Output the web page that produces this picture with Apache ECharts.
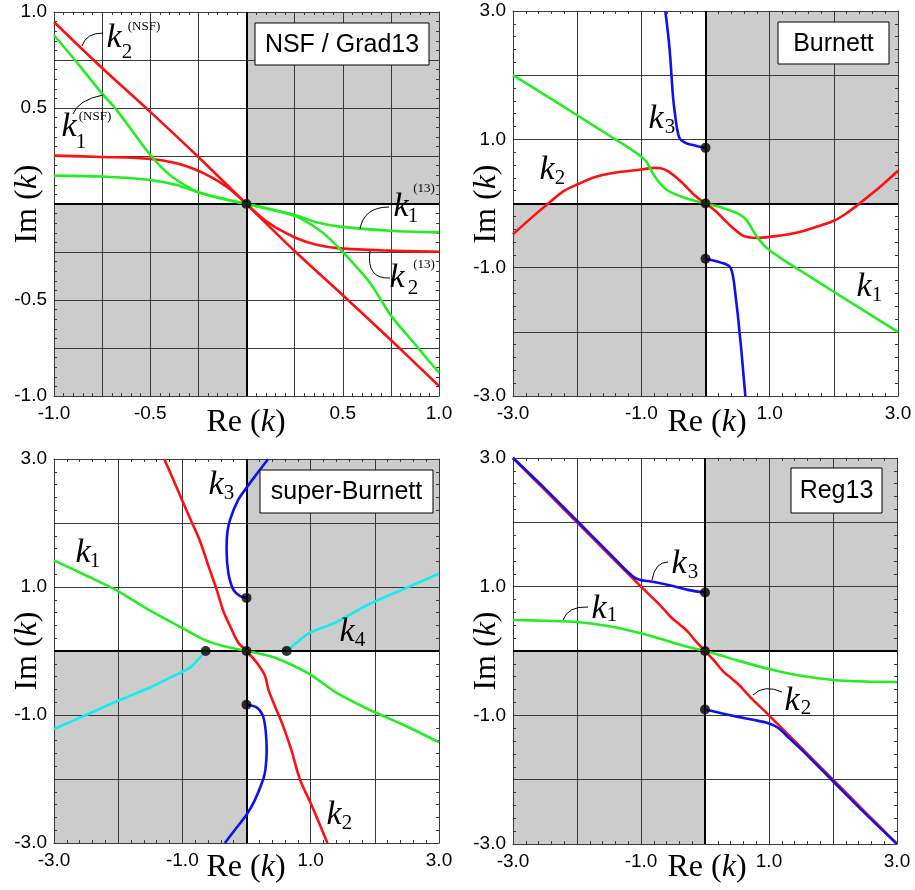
<!DOCTYPE html>
<html><head><meta charset="utf-8">
<script src="https://cdn.jsdelivr.net/npm/echarts@6/dist/echarts.min.js"></script>
<style>html,body{margin:0;padding:0;background:#fff}#c{width:915px;height:890px}</style>
</head><body><div id="c"></div>
<script>
// ---------------- DATA ----------------
// Panel 1: NSF / Grad13  (Re k, Im k)
const nsf_k2 = [[-1,0.948],[-0.75,0.708],[-0.5,0.48],[-0.25,0.245],[0,0],[0.25,-0.245],[0.5,-0.475],[0.75,-0.708],[1,-0.948]];
const nsf_k1 = [[-1,0.879],[-0.875,0.73],[-0.75,0.575],[-0.675,0.49],[-0.5,0.255],[-0.42,0.17],[-0.363,0.125],[-0.26,0.066],[-0.14,0.032],[0,0],[0.14,-0.032],[0.26,-0.066],[0.363,-0.125],[0.42,-0.17],[0.5,-0.25],[0.641,-0.41],[0.75,-0.58],[0.875,-0.73],[1,-0.879]];
const grad13_k2 = [[-1,0.252],[-0.75,0.245],[-0.5,0.235],[-0.363,0.212],[-0.26,0.177],[-0.172,0.134],[-0.103,0.09],[-0.05,0.046],[0,0],[0.05,-0.046],[0.103,-0.09],[0.172,-0.134],[0.26,-0.178],[0.363,-0.212],[0.486,-0.231],[0.745,-0.243],[1,-0.249]];
const grad13_k1 = [[-1,0.148],[-0.75,0.143],[-0.5,0.125],[-0.363,0.099],[-0.26,0.064],[-0.138,0.03],[0,0],[0.138,-0.03],[0.26,-0.06],[0.363,-0.095],[0.486,-0.118],[0.745,-0.139],[1,-0.148]];
const nsf_dots = [[0,0]];

// Panel 2: Burnett
const burnett_k1 = [[-3,2.0],[-2.5,1.69],[-2,1.375],[-1.5,1.06],[-1.2,0.87],[-1.0,0.73],[-0.92,0.65],[-0.79,0.42],[-0.64,0.24],[-0.53,0.17],[-0.27,0.07],[0,0],[0.27,-0.07],[0.53,-0.17],[0.64,-0.26],[0.77,-0.47],[0.9,-0.64],[1.0,-0.73],[1.2,-0.87],[1.5,-1.06],[2,-1.375],[2.5,-1.69],[3,-2.0]];
const burnett_k2 = [[-3,-0.48],[-2.71,-0.22],[-2.45,0],[-2.2,0.2],[-1.99,0.3],[-1.73,0.41],[-1.42,0.48],[-1.0,0.53],[-0.8,0.555],[-0.7,0.55],[-0.58,0.5],[-0.38,0.34],[-0.17,0.13],[0,0],[0.17,-0.13],[0.38,-0.34],[0.58,-0.5],[0.7,-0.53],[0.8,-0.535],[1.0,-0.52],[1.3,-0.48],[1.55,-0.42],[2.0,-0.27],[2.2,-0.15],[2.4,0],[2.7,0.24],[3,0.51]];
const burnett_k3_up = [[-0.626,3],[-0.59,2.7],[-0.558,2.39],[-0.53,2.0],[-0.506,1.66],[-0.47,1.35],[-0.44,1.15],[-0.41,1.03],[-0.377,0.985],[-0.3,0.94],[-0.15,0.9],[0,0.867]];
const burnett_k3_dn = [[0,-0.862],[0.15,-0.895],[0.3,-0.94],[0.377,-0.985],[0.41,-1.05],[0.44,-1.2],[0.47,-1.45],[0.506,-1.76],[0.53,-2.0],[0.558,-2.28],[0.59,-2.65],[0.621,-3.0]];
const burnett_dots = [[0,0.867],[0,0],[0,-0.862]];

// Panel 3: super-Burnett
const sb_k1 = [[-3,1.417],[-2.5,1.18],[-2.024,0.948],[-1.5,0.63],[-1.01,0.364],[-0.673,0.182],[-0.36,0.078],[0,0],[0.36,-0.078],[0.574,-0.156],[0.99,-0.364],[1.4,-0.65],[1.9,-0.91],[2.5,-1.18],[3,-1.427]];
const sb_k2 = [[-1.282,3],[-1.15,2.7],[-1.01,2.37],[-0.87,2.05],[-0.725,1.72],[-0.6,1.35],[-0.465,0.96],[-0.36,0.62],[-0.257,0.39],[-0.127,0.13],[0,0],[0.158,-0.18],[0.29,-0.39],[0.34,-0.6],[0.45,-0.88],[0.57,-1.17],[0.7,-1.55],[0.83,-2.0],[1.01,-2.4],[1.261,-3]];
const sb_k3_up = [[0,0.83],[-0.1,0.857],[-0.205,0.96],[-0.283,1.22],[-0.31,1.58],[-0.3,1.84],[-0.257,2.05],[-0.13,2.36],[0,2.55],[0.17,2.78],[0.337,3]];
const sb_k3_dn = [[0,-0.84],[0.158,-0.88],[0.25,-1.0],[0.29,-1.17],[0.31,-1.4],[0.314,-1.58],[0.295,-1.85],[0.262,-2.0],[0.13,-2.33],[0,-2.56],[-0.17,-2.78],[-0.337,-3]];
const sb_k4_left = [[-3,-1.219],[-2.5,-1.0],[-2.024,-0.786],[-1.504,-0.571],[-1.19,-0.415],[-0.88,-0.26],[-0.75,-0.13],[-0.636,0]];
const sb_k4_right = [[0.626,0],[0.78,0.13],[0.99,0.286],[1.4,0.45],[1.9,0.727],[2.5,0.99],[3,1.208]];
const sb_dots = [[0,0.83],[0,0],[0,-0.84],[-0.636,0],[0.626,0]];

// Panel 4: Reg13
const reg_k2 = [[-3,3],[-2.5,2.5],[-2,2],[-1.5,1.5],[-1,1],[-0.75,0.76],[-0.6,0.6],[-0.526,0.52],[-0.42,0.43],[-0.32,0.35],[-0.25,0.28],[-0.16,0.17],[0,0],[0.16,-0.17],[0.25,-0.28],[0.32,-0.35],[0.42,-0.43],[0.526,-0.52],[0.6,-0.6],[0.75,-0.76],[1,-1],[1.5,-1.5],[2,-2],[2.5,-2.5],[3,-3]];
const reg_k3_up = [[-3,3.0],[-2.5,2.525],[-2,2.025],[-1.5,1.525],[-1.25,1.27],[-1.1,1.14],[-1.0,1.1],[-0.84,1.08],[-0.5,1.01],[-0.27,0.95],[0,0.908]];
const reg_k3_dn = [[0,-0.908],[0.255,-0.967],[0.5,-1.02],[0.75,-1.07],[0.98,-1.12],[1.15,-1.2],[1.3,-1.34],[1.5,-1.525],[2,-2.025],[2.5,-2.525],[3,-3.0]];
const reg_k1 = [[-3,0.482],[-2.5,0.47],[-2,0.45],[-1.5,0.385],[-1,0.275],[-0.5,0.13],[-0.25,0.06],[0,0],[0.25,-0.07],[0.5,-0.145],[1,-0.28],[1.5,-0.385],[2,-0.45],[2.5,-0.475],[3,-0.482]];
const reg_dots = [[0,0.908],[0,0],[0,-0.908]];

// Tick labels
const smallTickValues = [-1,-0.5,0.5,1];
const smallTickLabels = ['-1.0','-0.5','0.5','1.0'];
const bigTickValues = [-3,-1,1,3];
const bigTickLabels = ['-3.0','-1.0','1.0','3.0'];
const panelTitles = ['NSF / Grad13','Burnett','super-Burnett','Reg13'];

// ---------------- STYLE / LAYOUT ----------------
const SANS = '"Liberation Sans", Arial, sans-serif';
const SERIF = '"Liberation Serif", "Times New Roman", serif';
const LC = '#3a3a3a';
const RED = '#ff1010', GREEN = '#22ee22', BLUE = '#1010ee', CYAN = '#11eeee';
const gridPos = [
  {left:54, top:12, width:385, height:384},
  {left:513, top:11, width:385, height:385},
  {left:54, top:459, width:385, height:384},
  {left:513, top:458, width:384, height:386}
];
const ranges = [[-1,1,0.25],[-3,3,1],[-3,3,1],[-3,3,1]];

function fmtFor(vals, labs){
  return function(v){ const i = vals.findIndex(t => Math.abs(t - v) < 1e-9); return i >= 0 ? labs[i] : ''; };
}
const xAxes = [], yAxes = [];
gridPos.forEach((g, gi) => {
  const [mn, mx, iv] = ranges[gi];
  const fmt = gi === 0 ? fmtFor(smallTickValues, smallTickLabels) : fmtFor(bigTickValues, bigTickLabels);
  const base = {
    type:'value', gridIndex:gi, min:mn, max:mx, interval:iv,
    axisLine:{show:true, onZero:false, lineStyle:{color:LC, width:1}},
    axisTick:{show:false, inside:true},
    minorTick:{show:true, splitNumber:5, length:3, lineStyle:{color:LC, width:1}},
    minorSplitLine:{show:false}
  };
  const lab = {show:true, color:'#000', fontFamily:SANS, fontSize:19, formatter:fmt, showMinLabel:true, showMaxLabel:true, hideOverlap:false};
  xAxes.push(Object.assign({}, base, {position:'bottom', splitLine:{show:true, lineStyle:{color:LC, width:1}}, axisLabel:Object.assign({margin:8}, lab)}));
  xAxes.push(Object.assign({}, base, {position:'top', splitLine:{show:false}, axisLabel:{show:false}}));
  yAxes.push(Object.assign({}, base, {position:'left', splitLine:{show:true, lineStyle:{color:LC, width:1}}, axisLabel:Object.assign({margin:7}, lab)}));
  yAxes.push(Object.assign({}, base, {position:'right', splitLine:{show:false}, axisLabel:{show:false}}));
});

const series = [];
function line(gi, data, color){
  series.push({type:'line', xAxisIndex:gi*2, yAxisIndex:gi*2, data:data, showSymbol:false, symbol:'none',
    smooth:0.3, lineStyle:{color:color, width:2.6}, itemStyle:{color:color}, silent:true, z:2});
}
function dots(gi, data){
  series.push({type:'scatter', xAxisIndex:gi*2, yAxisIndex:gi*2, data:data, symbolSize:10,
    itemStyle:{color:'#000'}, silent:true, z:4});
}
gridPos.forEach((g, gi) => {
  const [mn, mx] = ranges[gi];
  series.push({type:'line', xAxisIndex:gi*2, yAxisIndex:gi*2, data:[], silent:true,
    markArea:{silent:true, z:-1, itemStyle:{color:'#cccccc', borderWidth:0}, label:{show:false},
      data:[[{coord:[0,0]},{coord:[mx,mx]}],[{coord:[mn,mn]},{coord:[0,0]}]]},
    markLine:{silent:true, z:1, symbol:'none', label:{show:false}, lineStyle:{color:'#000', width:2, type:'solid'},
      data:[{xAxis:0},{yAxis:0}]}
  });
});
line(0, nsf_k2, RED); line(0, grad13_k2, RED); line(0, nsf_k1, GREEN); line(0, grad13_k1, GREEN); dots(0, nsf_dots);
line(1, burnett_k2, RED); line(1, burnett_k1, GREEN); line(1, burnett_k3_up, BLUE); line(1, burnett_k3_dn, BLUE); dots(1, burnett_dots);
line(2, sb_k2, RED); line(2, sb_k1, GREEN); line(2, sb_k3_up, BLUE); line(2, sb_k3_dn, BLUE); line(2, sb_k4_left, CYAN); line(2, sb_k4_right, CYAN); dots(2, sb_dots);
line(3, reg_k2, RED); line(3, reg_k1, GREEN); line(3, reg_k3_up, BLUE); line(3, reg_k3_dn, BLUE); dots(3, reg_dots);

// ---------------- ANNOTATIONS ----------------
const graphic = [];
const boxes = [[255,23,174,42],[778,22,111,42],[260,470,173,43],[791,468,91,45]];
boxes.forEach((b, i) => {
  graphic.push({type:'rect', shape:{x:b[0], y:b[1], width:b[2], height:b[3]}, style:{fill:'#fff', stroke:'#000', lineWidth:1}, z:10});
  graphic.push({type:'text', x:b[0]+b[2]/2, y:b[1]+b[3]/2+1, style:{text:panelTitles[i], fontFamily:SANS, fontSize:25, fill:'#000', align:'center', verticalAlign:'middle'}, z:11});
});
const imPos = [[28,204],[487,204],[28,651],[487,651]];
const rePos = [[246,423],[707,423],[246,868],[707,868]];
const titleRich = {r:{fontFamily:SERIF, fontSize:32, fill:'#000'}, i:{fontFamily:SERIF, fontSize:32, fontStyle:'italic', fill:'#000'}};
imPos.forEach(p => graphic.push({type:'text', x:p[0], y:p[1], rotation:Math.PI/2,
  style:{text:'{r|Im (}{i|k}{r|)}', rich:titleRich, align:'center', verticalAlign:'middle'}, z:10}));
rePos.forEach(p => graphic.push({type:'text', x:p[0], y:p[1],
  style:{text:'{r|Re (}{i|k}{r|)}', rich:titleRich, align:'center', verticalAlign:'middle'}, z:10}));

// math labels: [kx, ky, sub, subx, suby, sup, supx, supy]
const mathLabels = [
  [114,38,'2',127,52,'(NSF)',144,27],
  [69,127,'1',81,142,'(NSF)',95,117],
  [401,207,'1',413,216,'(13)',424,189],
  [397,278,'2',413,288,'(13)',424,265],
  [656,119,'3',670,127,'',0,0],
  [547,170,'2',560,178,'',0,0],
  [864,287,'1',877,295,'',0,0],
  [216,485,'3',229,493,'',0,0],
  [83,553,'1',95,561,'',0,0],
  [347,632,'4',360,640,'',0,0],
  [334,815,'2',347,823,'',0,0],
  [679,564,'3',693,572,'',0,0],
  [599,609,'1',612,615,'',0,0],
  [792,701,'2',806,708,'',0,0]
];
mathLabels.forEach(m => {
  graphic.push({type:'text', x:m[0], y:m[1], style:{text:'k', fontFamily:SERIF, fontSize:34, fontStyle:'italic', fill:'#000', align:'center', verticalAlign:'middle'}, z:12});
  graphic.push({type:'text', x:m[3], y:m[4], style:{text:m[2], fontFamily:SERIF, fontSize:21, fill:'#000', align:'center', verticalAlign:'middle'}, z:12});
  if (m[5]) graphic.push({type:'text', x:m[6], y:m[7], style:{text:m[5], fontFamily:SERIF, fontSize:13, fill:'#000', align:'center', verticalAlign:'middle'}, z:12});
});
const leaders = [
  [82,46,86,33,103,33],
  [103,95,78,100,73,114],
  [360,229,364,207,389,207],
  [370,251,366,279,390,278],
  [652,580,655,562,668,562],
  [563,620,568,606,588,607],
  [753,695,764,684,782,692]
];
leaders.forEach(l => graphic.push({type:'bezierCurve', shape:{x1:l[0], y1:l[1], cpx1:l[2], cpy1:l[3], x2:l[4], y2:l[5]},
  style:{stroke:'#000', lineWidth:1, fill:null}, z:12}));

const chart = echarts.init(document.getElementById('c'), null, {renderer:'canvas'});
chart.setOption({
  animation:false, backgroundColor:'#fff',
  grid: gridPos.map(g => Object.assign({containLabel:false}, g)),
  xAxis: xAxes, yAxis: yAxes, series: series, graphic: graphic
});
</script></body></html>
